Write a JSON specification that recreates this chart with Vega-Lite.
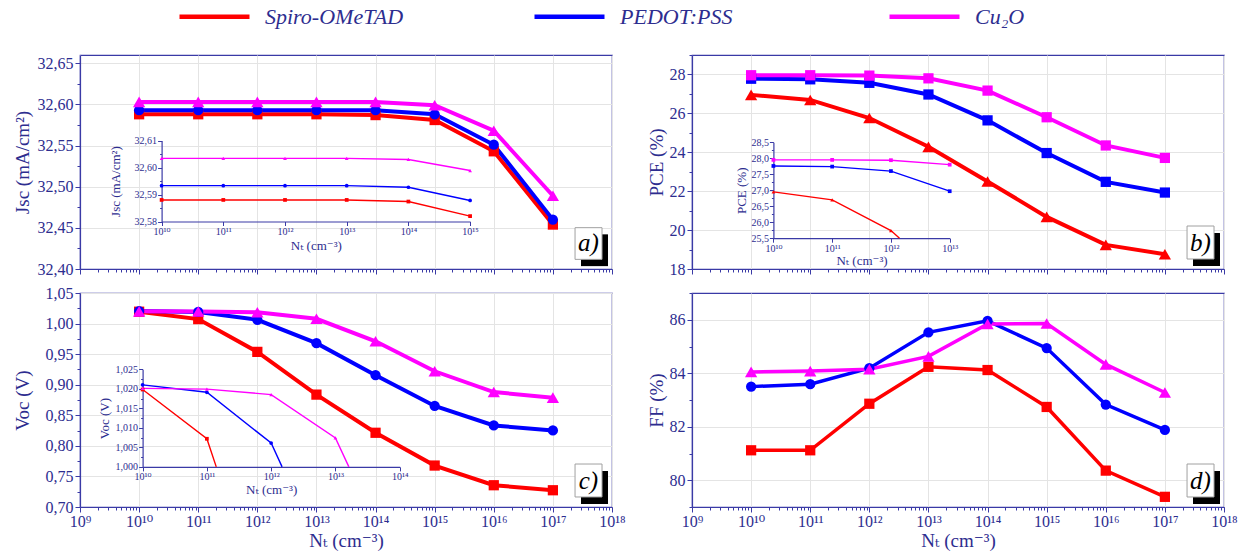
{
 "$schema": "https://vega.github.io/schema/vega-lite/v6.json",
 "padding": {"left": 12, "top": -21, "right": 6, "bottom": 0},
 "background": "white",
 "datasets": {
  "main": [
   {"panel":"a","htm":"Spiro-OMeTAD","nt":1e10,"v":32.588},{"panel":"a","htm":"Spiro-OMeTAD","nt":1e11,"v":32.588},{"panel":"a","htm":"Spiro-OMeTAD","nt":1e12,"v":32.588},{"panel":"a","htm":"Spiro-OMeTAD","nt":1e13,"v":32.588},{"panel":"a","htm":"Spiro-OMeTAD","nt":1e14,"v":32.587},{"panel":"a","htm":"Spiro-OMeTAD","nt":1e15,"v":32.581},{"panel":"a","htm":"Spiro-OMeTAD","nt":1e16,"v":32.543},{"panel":"a","htm":"Spiro-OMeTAD","nt":1e17,"v":32.454},
   {"panel":"a","htm":"PEDOT:PSS","nt":1e10,"v":32.593},{"panel":"a","htm":"PEDOT:PSS","nt":1e11,"v":32.593},{"panel":"a","htm":"PEDOT:PSS","nt":1e12,"v":32.593},{"panel":"a","htm":"PEDOT:PSS","nt":1e13,"v":32.593},{"panel":"a","htm":"PEDOT:PSS","nt":1e14,"v":32.593},{"panel":"a","htm":"PEDOT:PSS","nt":1e15,"v":32.588},{"panel":"a","htm":"PEDOT:PSS","nt":1e16,"v":32.551},{"panel":"a","htm":"PEDOT:PSS","nt":1e17,"v":32.460},
   {"panel":"a","htm":"Cu₂O","nt":1e10,"v":32.603},{"panel":"a","htm":"Cu₂O","nt":1e11,"v":32.603},{"panel":"a","htm":"Cu₂O","nt":1e12,"v":32.603},{"panel":"a","htm":"Cu₂O","nt":1e13,"v":32.603},{"panel":"a","htm":"Cu₂O","nt":1e14,"v":32.603},{"panel":"a","htm":"Cu₂O","nt":1e15,"v":32.599},{"panel":"a","htm":"Cu₂O","nt":1e16,"v":32.568},{"panel":"a","htm":"Cu₂O","nt":1e17,"v":32.489},
   {"panel":"b","htm":"Spiro-OMeTAD","nt":1e10,"v":26.95},{"panel":"b","htm":"Spiro-OMeTAD","nt":1e11,"v":26.69},{"panel":"b","htm":"Spiro-OMeTAD","nt":1e12,"v":25.76},{"panel":"b","htm":"Spiro-OMeTAD","nt":1e13,"v":24.28},{"panel":"b","htm":"Spiro-OMeTAD","nt":1e14,"v":22.50},{"panel":"b","htm":"Spiro-OMeTAD","nt":1e15,"v":20.68},{"panel":"b","htm":"Spiro-OMeTAD","nt":1e16,"v":19.24},{"panel":"b","htm":"Spiro-OMeTAD","nt":1e17,"v":18.76},
   {"panel":"b","htm":"PEDOT:PSS","nt":1e10,"v":27.78},{"panel":"b","htm":"PEDOT:PSS","nt":1e11,"v":27.75},{"panel":"b","htm":"PEDOT:PSS","nt":1e12,"v":27.57},{"panel":"b","htm":"PEDOT:PSS","nt":1e13,"v":26.97},{"panel":"b","htm":"PEDOT:PSS","nt":1e14,"v":25.64},{"panel":"b","htm":"PEDOT:PSS","nt":1e15,"v":23.96},{"panel":"b","htm":"PEDOT:PSS","nt":1e16,"v":22.48},{"panel":"b","htm":"PEDOT:PSS","nt":1e17,"v":21.93},
   {"panel":"b","htm":"Cu₂O","nt":1e10,"v":27.96},{"panel":"b","htm":"Cu₂O","nt":1e11,"v":27.96},{"panel":"b","htm":"Cu₂O","nt":1e12,"v":27.94},{"panel":"b","htm":"Cu₂O","nt":1e13,"v":27.80},{"panel":"b","htm":"Cu₂O","nt":1e14,"v":27.17},{"panel":"b","htm":"Cu₂O","nt":1e15,"v":25.80},{"panel":"b","htm":"Cu₂O","nt":1e16,"v":24.35},{"panel":"b","htm":"Cu₂O","nt":1e17,"v":23.71},
   {"panel":"c","htm":"Spiro-OMeTAD","nt":1e10,"v":1.0194},{"panel":"c","htm":"Spiro-OMeTAD","nt":1e11,"v":1.0073},{"panel":"c","htm":"Spiro-OMeTAD","nt":1e12,"v":0.9537},{"panel":"c","htm":"Spiro-OMeTAD","nt":1e13,"v":0.8838},{"panel":"c","htm":"Spiro-OMeTAD","nt":1e14,"v":0.8214},{"panel":"c","htm":"Spiro-OMeTAD","nt":1e15,"v":0.7678},{"panel":"c","htm":"Spiro-OMeTAD","nt":1e16,"v":0.7356},{"panel":"c","htm":"Spiro-OMeTAD","nt":1e17,"v":0.7274},
   {"panel":"c","htm":"PEDOT:PSS","nt":1e10,"v":1.0205},{"panel":"c","htm":"PEDOT:PSS","nt":1e11,"v":1.019},{"panel":"c","htm":"PEDOT:PSS","nt":1e12,"v":1.0062},{"panel":"c","htm":"PEDOT:PSS","nt":1e13,"v":0.968},{"panel":"c","htm":"PEDOT:PSS","nt":1e14,"v":0.9155},{"panel":"c","htm":"PEDOT:PSS","nt":1e15,"v":0.8652},{"panel":"c","htm":"PEDOT:PSS","nt":1e16,"v":0.8334},{"panel":"c","htm":"PEDOT:PSS","nt":1e17,"v":0.8252},
   {"panel":"c","htm":"Cu₂O","nt":1e10,"v":1.0200},{"panel":"c","htm":"Cu₂O","nt":1e11,"v":1.0197},{"panel":"c","htm":"Cu₂O","nt":1e12,"v":1.0185},{"panel":"c","htm":"Cu₂O","nt":1e13,"v":1.0078},{"panel":"c","htm":"Cu₂O","nt":1e14,"v":0.971},{"panel":"c","htm":"Cu₂O","nt":1e15,"v":0.922},{"panel":"c","htm":"Cu₂O","nt":1e16,"v":0.888},{"panel":"c","htm":"Cu₂O","nt":1e17,"v":0.8788},
   {"panel":"d","htm":"Spiro-OMeTAD","nt":1e10,"v":81.12},{"panel":"d","htm":"Spiro-OMeTAD","nt":1e11,"v":81.12},{"panel":"d","htm":"Spiro-OMeTAD","nt":1e12,"v":82.86},{"panel":"d","htm":"Spiro-OMeTAD","nt":1e13,"v":84.24},{"panel":"d","htm":"Spiro-OMeTAD","nt":1e14,"v":84.12},{"panel":"d","htm":"Spiro-OMeTAD","nt":1e15,"v":82.74},{"panel":"d","htm":"Spiro-OMeTAD","nt":1e16,"v":80.36},{"panel":"d","htm":"Spiro-OMeTAD","nt":1e17,"v":79.38},
   {"panel":"d","htm":"PEDOT:PSS","nt":1e10,"v":83.50},{"panel":"d","htm":"PEDOT:PSS","nt":1e11,"v":83.59},{"panel":"d","htm":"PEDOT:PSS","nt":1e12,"v":84.19},{"panel":"d","htm":"PEDOT:PSS","nt":1e13,"v":85.53},{"panel":"d","htm":"PEDOT:PSS","nt":1e14,"v":85.96},{"panel":"d","htm":"PEDOT:PSS","nt":1e15,"v":84.94},{"panel":"d","htm":"PEDOT:PSS","nt":1e16,"v":82.83},{"panel":"d","htm":"PEDOT:PSS","nt":1e17,"v":81.88},
   {"panel":"d","htm":"Cu₂O","nt":1e10,"v":84.05},{"panel":"d","htm":"Cu₂O","nt":1e11,"v":84.08},{"panel":"d","htm":"Cu₂O","nt":1e12,"v":84.15},{"panel":"d","htm":"Cu₂O","nt":1e13,"v":84.63},{"panel":"d","htm":"Cu₂O","nt":1e14,"v":85.84},{"panel":"d","htm":"Cu₂O","nt":1e15,"v":85.86},{"panel":"d","htm":"Cu₂O","nt":1e16,"v":84.33},{"panel":"d","htm":"Cu₂O","nt":1e17,"v":83.28}
  ],
  "inset": [
   {"panel":"a","htm":"Spiro-OMeTAD","nt":1e10,"v":32.588},{"panel":"a","htm":"Spiro-OMeTAD","nt":1e11,"v":32.588},{"panel":"a","htm":"Spiro-OMeTAD","nt":1e12,"v":32.588},{"panel":"a","htm":"Spiro-OMeTAD","nt":1e13,"v":32.588},{"panel":"a","htm":"Spiro-OMeTAD","nt":1e14,"v":32.5874},{"panel":"a","htm":"Spiro-OMeTAD","nt":1e15,"v":32.582},
   {"panel":"a","htm":"PEDOT:PSS","nt":1e10,"v":32.5933},{"panel":"a","htm":"PEDOT:PSS","nt":1e11,"v":32.5933},{"panel":"a","htm":"PEDOT:PSS","nt":1e12,"v":32.5933},{"panel":"a","htm":"PEDOT:PSS","nt":1e13,"v":32.5933},{"panel":"a","htm":"PEDOT:PSS","nt":1e14,"v":32.5927},{"panel":"a","htm":"PEDOT:PSS","nt":1e15,"v":32.5878},
   {"panel":"a","htm":"Cu₂O","nt":1e10,"v":32.6034},{"panel":"a","htm":"Cu₂O","nt":1e11,"v":32.6034},{"panel":"a","htm":"Cu₂O","nt":1e12,"v":32.6034},{"panel":"a","htm":"Cu₂O","nt":1e13,"v":32.6034},{"panel":"a","htm":"Cu₂O","nt":1e14,"v":32.603},{"panel":"a","htm":"Cu₂O","nt":1e15,"v":32.5989},
   {"panel":"b","htm":"Spiro-OMeTAD","nt":1e10,"v":26.95},{"panel":"b","htm":"Spiro-OMeTAD","nt":1e11,"v":26.70},{"panel":"b","htm":"Spiro-OMeTAD","nt":1e12,"v":25.74},{"panel":"b","htm":"Spiro-OMeTAD","nt":1.4e12,"v":25.5},
   {"panel":"b","htm":"PEDOT:PSS","nt":1e10,"v":27.76},{"panel":"b","htm":"PEDOT:PSS","nt":1e11,"v":27.74},{"panel":"b","htm":"PEDOT:PSS","nt":1e12,"v":27.60},{"panel":"b","htm":"PEDOT:PSS","nt":1e13,"v":26.97},
   {"panel":"b","htm":"Cu₂O","nt":1e10,"v":27.95},{"panel":"b","htm":"Cu₂O","nt":1e11,"v":27.95},{"panel":"b","htm":"Cu₂O","nt":1e12,"v":27.94},{"panel":"b","htm":"Cu₂O","nt":1e13,"v":27.80},
   {"panel":"c","htm":"Spiro-OMeTAD","nt":1e10,"v":1.0198},{"panel":"c","htm":"Spiro-OMeTAD","nt":1e11,"v":1.0072},{"panel":"c","htm":"Spiro-OMeTAD","nt":1.4e11,"v":1.0},
   {"panel":"c","htm":"PEDOT:PSS","nt":1e10,"v":1.021},{"panel":"c","htm":"PEDOT:PSS","nt":1e11,"v":1.0191},{"panel":"c","htm":"PEDOT:PSS","nt":1e12,"v":1.0061},{"panel":"c","htm":"PEDOT:PSS","nt":1.48e12,"v":1.0},
   {"panel":"c","htm":"Cu₂O","nt":1e10,"v":1.0201},{"panel":"c","htm":"Cu₂O","nt":1e11,"v":1.0199},{"panel":"c","htm":"Cu₂O","nt":1e12,"v":1.0185},{"panel":"c","htm":"Cu₂O","nt":1e13,"v":1.0074},{"panel":"c","htm":"Cu₂O","nt":1.62e13,"v":1.0}
  ],
  "tags": [{"panel":"a","tag":"a)"},{"panel":"b","tag":"b)"},{"panel":"c","tag":"c)"},{"panel":"d","tag":"d)"}]
 },
 "columns": 2,
 "spacing": {"row": 24, "column": 80},
 "bounds": "flush",
 "concat": [
  {
   "width": 532, "height": 214,
   "layer": [
    {
     "layer": [
      {
       "data": {"name": "main"},
       "transform": [{"filter": "datum.panel == 'a'"}],
       "encoding": {
        "x": {"field": "nt", "type": "quantitative", "scale": {"type": "log", "domain": [1e9, 1e18]},
              "axis": {"tickCount": 100, "labels": false, "title": null, "grid": true, "gridOpacity": {"condition": {"test": "abs(log(datum.value)/LN10 - round(log(datum.value)/LN10)) < 0.01", "value": 1}, "value": 0}, "tickSize": {"condition": {"test": "abs(log(datum.value)/LN10 - round(log(datum.value)/LN10)) < 0.01", "value": 5}, "value": 3}}},
        "y": {"field": "v", "type": "quantitative", "scale": {"domain": [32.4, 32.65]},
              "axis": {"values": [32.4,32.425,32.45,32.475,32.5,32.525,32.55,32.575,32.6,32.625,32.65], "labelExpr": "abs(datum.value*20 - round(datum.value*20)) < 0.01 ? replace(format(datum.value, '.2f'), '.', ',') : ''", "grid": true, "gridOpacity": {"condition": {"test": "abs(datum.value*20 - round(datum.value*20)) < 0.01", "value": 1}, "value": 0}, "tickSize": {"condition": {"test": "abs(datum.value*20 - round(datum.value*20)) < 0.01", "value": 5}, "value": 3}, "title": "Jsc (mA/cm²)", "titlePadding": 5}}
       },
       "layer": [
        {"mark": {"type": "line", "strokeWidth": 4}, "encoding": {"color": {"field": "htm", "type": "nominal", "scale": {"domain": ["Spiro-OMeTAD", "PEDOT:PSS", "Cu₂O"], "range": ["#ff0000", "#0000ff", "#ff00ff"]}, "legend": {"title": null, "orient": "none", "legendX": 97, "legendY": -76, "direction": "horizontal", "columns": 3, "gridAlign": "all", "symbolType": "stroke", "symbolSize": 4900, "symbolStrokeWidth": 4.5, "labelFontSize": 22, "labelFontStyle": "italic", "labelColor": "#2d2d8f", "labelOffset": 13, "columnPadding": 121, "labelLimit": 400, "padding": 0}}}},
        {"mark": {"type": "point", "filled": true, "opacity": 1}, "encoding": {"color": {"condition": [{"test": "datum.htm == 'Spiro-OMeTAD'", "value": "#ff0000"}, {"test": "datum.htm == 'PEDOT:PSS'", "value": "#0000ff"}], "value": "#ff00ff"}, "shape": {"condition": [{"test": "datum.htm == 'Spiro-OMeTAD'", "value": "square"}, {"test": "datum.htm == 'PEDOT:PSS'", "value": "circle"}], "value": "triangle-up"}, "size": {"condition": {"test": "datum.htm == 'Cu₂O'", "value": 150}, "value": 105}}}
       ]
      },
      {"data": {"name": "tags"}, "transform": [{"filter": "datum.panel == 'a'"}], "mark": {"type": "rect", "color": "black"}, "encoding": {"x": {"datum": 2.99e17, "type": "quantitative", "axis": null}, "x2": {"datum": 8.55e17}, "y": {"datum": 32.4035, "type": "quantitative", "axis": null}, "y2": {"datum": 32.4421}}},
      {"data": {"name": "tags"}, "transform": [{"filter": "datum.panel == 'a'"}], "mark": {"type": "rect", "fill": "white", "stroke": "#a0a0a0", "strokeWidth": 1}, "encoding": {"x": {"datum": 2.37e17, "type": "quantitative", "axis": null}, "x2": {"datum": 6.78e17}, "y": {"datum": 32.4117, "type": "quantitative", "axis": null}, "y2": {"datum": 32.4502}}},
      {"data": {"name": "tags"}, "transform": [{"filter": "datum.panel == 'a'"}], "mark": {"type": "text", "fontStyle": "italic", "fontSize": 25, "color": "black"}, "encoding": {"x": {"datum": 3.98e17, "type": "quantitative", "axis": null}, "y": {"datum": 32.431, "type": "quantitative", "axis": null}, "text": {"field": "tag"}}}
     ],
     "resolve": {"axis": {"x": "independent", "y": "independent"}}
    },
    {
     "data": {"name": "inset"},
     "transform": [{"filter": "datum.panel == 'a'"}],
     "encoding": {
      "x": {"field": "nt", "type": "quantitative", "scale": {"type": "log", "domain": [1e10, 1e15], "range": [81.6, 390.1]},
            "axis": {"orient": "bottom", "offset": -47.5, "values": [1e10,1e11,1e12,1e13,1e14,1e15], "grid": false, "labelOverlap": false, "labelBound": false, "labelFontSize": 10, "titleFontSize": 13, "labelPadding": 1, "titlePadding": 3, "title": "Nₜ (cm⁻³)", "labelExpr": "['10⁹','10¹⁰','10¹¹','10¹²','10¹³','10¹⁴','10¹⁵','10¹⁶','10¹⁷','10¹⁸'][round(log(datum.value)/LN10)-9]", "tickSize": 4}},
      "y": {"field": "v", "type": "quantitative", "scale": {"domain": [32.58, 32.61], "range": [166.5, 85.6]},
            "axis": {"orient": "left", "offset": -81.6, "grid": false, "labelOverlap": false, "values": [32.58,32.585,32.59,32.595,32.6,32.605,32.61], "labelFontSize": 10, "titleFontSize": 13, "labelPadding": 1, "titlePadding": 12, "title": "Jsc (mA/cm²)", "labelExpr": "abs(datum.value*100 - round(datum.value*100)) < 0.01 ? replace(format(datum.value, '.2f'), '.', ',') : ''", "tickSize": {"condition": {"test": "abs(datum.value*100 - round(datum.value*100)) < 0.01", "value": 4}, "value": 2}}}
     },
     "layer": [
      {"mark": {"type": "line", "strokeWidth": 1.4}, "encoding": {"color": {"field": "htm", "type": "nominal", "legend": {"title": null, "orient": "none", "legendX": 97, "legendY": -76, "direction": "horizontal", "columns": 3, "gridAlign": "all", "symbolType": "stroke", "symbolSize": 4900, "symbolStrokeWidth": 4.5, "labelFontSize": 22, "labelFontStyle": "italic", "labelColor": "#2d2d8f", "labelOffset": 13, "columnPadding": 121, "labelLimit": 400, "padding": 0}}}},
      {"transform": [{"filter": "abs(log(datum.nt)/LN10 - round(log(datum.nt)/LN10)) < 0.01"}], "mark": {"type": "point", "filled": true, "opacity": 1, "size": 14}, "encoding": {"color": {"condition": [{"test": "datum.htm == 'Spiro-OMeTAD'", "value": "#ff0000"}, {"test": "datum.htm == 'PEDOT:PSS'", "value": "#0000ff"}], "value": "#ff00ff"}, "shape": {"condition": [{"test": "datum.htm == 'Spiro-OMeTAD'", "value": "square"}, {"test": "datum.htm == 'PEDOT:PSS'", "value": "circle"}], "value": "triangle-up"}}}
     ]
    }
   ],
   "resolve": {"scale": {"x": "independent", "y": "independent"}, "axis": {"x": "independent", "y": "independent"}}
  },
  {
   "width": 532, "height": 214,
   "layer": [
    {
     "layer": [
      {
       "data": {"name": "main"},
       "transform": [{"filter": "datum.panel == 'b'"}],
       "encoding": {
        "x": {"field": "nt", "type": "quantitative", "scale": {"type": "log", "domain": [1e9, 1e18]},
              "axis": {"tickCount": 100, "labels": false, "title": null, "grid": true, "gridOpacity": {"condition": {"test": "abs(log(datum.value)/LN10 - round(log(datum.value)/LN10)) < 0.01", "value": 1}, "value": 0}, "tickSize": {"condition": {"test": "abs(log(datum.value)/LN10 - round(log(datum.value)/LN10)) < 0.01", "value": 5}, "value": 3}}},
        "y": {"field": "v", "type": "quantitative", "scale": {"domain": [18, 29]},
              "axis": {"values": [18,19,20,21,22,23,24,25,26,27,28,29], "labelExpr": "datum.value % 2 == 0 && datum.value < 29 ? format(datum.value, 'd') : ''", "grid": true, "gridOpacity": {"condition": {"test": "datum.value % 2 == 0", "value": 1}, "value": 0}, "tickSize": {"condition": {"test": "datum.value % 2 == 0", "value": 5}, "value": 3}, "title": "PCE (%)", "titlePadding": 3}}
       },
       "layer": [
        {"mark": {"type": "line", "strokeWidth": 4}, "encoding": {"color": {"field": "htm", "type": "nominal", "legend": {"title": null, "orient": "none", "legendX": 97, "legendY": -76, "direction": "horizontal", "columns": 3, "gridAlign": "all", "symbolType": "stroke", "symbolSize": 4900, "symbolStrokeWidth": 4.5, "labelFontSize": 22, "labelFontStyle": "italic", "labelColor": "#2d2d8f", "labelOffset": 13, "columnPadding": 121, "labelLimit": 400, "padding": 0}}}},
        {"mark": {"type": "point", "filled": true, "opacity": 1}, "encoding": {"color": {"condition": [{"test": "datum.htm == 'Spiro-OMeTAD'", "value": "#ff0000"}, {"test": "datum.htm == 'PEDOT:PSS'", "value": "#0000ff"}], "value": "#ff00ff"}, "shape": {"condition": {"test": "datum.htm == 'Spiro-OMeTAD'", "value": "triangle-up"}, "value": "square"}, "size": {"condition": {"test": "datum.htm == 'Spiro-OMeTAD'", "value": 150}, "value": 105}}}
       ]
      },
      {"data": {"name": "tags"}, "transform": [{"filter": "datum.panel == 'b'"}], "mark": {"type": "rect", "color": "black"}, "encoding": {"x": {"datum": 2.99e17, "type": "quantitative", "axis": null}, "x2": {"datum": 8.55e17}, "y": {"datum": 18.154, "type": "quantitative", "axis": null}, "y2": {"datum": 19.85}}},
      {"data": {"name": "tags"}, "transform": [{"filter": "datum.panel == 'b'"}], "mark": {"type": "rect", "fill": "white", "stroke": "#a0a0a0", "strokeWidth": 1}, "encoding": {"x": {"datum": 2.37e17, "type": "quantitative", "axis": null}, "x2": {"datum": 6.78e17}, "y": {"datum": 18.514, "type": "quantitative", "axis": null}, "y2": {"datum": 20.21}}},
      {"data": {"name": "tags"}, "transform": [{"filter": "datum.panel == 'b'"}], "mark": {"type": "text", "fontStyle": "italic", "fontSize": 25, "color": "black"}, "encoding": {"x": {"datum": 3.98e17, "type": "quantitative", "axis": null}, "y": {"datum": 19.36, "type": "quantitative", "axis": null}, "text": {"field": "tag"}}}
     ],
     "resolve": {"axis": {"x": "independent", "y": "independent"}}
    },
    {
     "data": {"name": "inset"},
     "transform": [{"filter": "datum.panel == 'b'"}],
     "encoding": {
      "x": {"field": "nt", "type": "quantitative", "scale": {"type": "log", "domain": [1e10, 1e13], "range": [81.4, 257.7]},
            "axis": {"orient": "bottom", "offset": -30.8, "values": [1e10,1e11,1e12,1e13], "grid": false, "labelOverlap": false, "labelBound": false, "labelFontSize": 10, "titleFontSize": 13, "labelPadding": 1, "titlePadding": 1, "title": "Nₜ (cm⁻³)", "labelExpr": "['10⁹','10¹⁰','10¹¹','10¹²','10¹³','10¹⁴','10¹⁵','10¹⁶','10¹⁷','10¹⁸'][round(log(datum.value)/LN10)-9]", "tickSize": 4}},
      "y": {"field": "v", "type": "quantitative", "scale": {"domain": [25.5, 28.5], "range": [183.2, 87.3]},
            "axis": {"orient": "left", "offset": -81.4, "grid": false, "labelOverlap": false, "values": [25.5,25.75,26,26.25,26.5,26.75,27,27.25,27.5,27.75,28,28.25,28.5], "labelFontSize": 10, "titleFontSize": 13, "labelPadding": 1, "titlePadding": 2, "title": "PCE (%)", "labelExpr": "abs(datum.value*2 - round(datum.value*2)) < 0.01 ? replace(format(datum.value, '.1f'), '.', ',') : ''", "tickSize": {"condition": {"test": "abs(datum.value*2 - round(datum.value*2)) < 0.01", "value": 4}, "value": 2}}}
     },
     "layer": [
      {"mark": {"type": "line", "strokeWidth": 1.4}, "encoding": {"color": {"field": "htm", "type": "nominal", "legend": {"title": null, "orient": "none", "legendX": 97, "legendY": -76, "direction": "horizontal", "columns": 3, "gridAlign": "all", "symbolType": "stroke", "symbolSize": 4900, "symbolStrokeWidth": 4.5, "labelFontSize": 22, "labelFontStyle": "italic", "labelColor": "#2d2d8f", "labelOffset": 13, "columnPadding": 121, "labelLimit": 400, "padding": 0}}}},
      {"transform": [{"filter": "abs(log(datum.nt)/LN10 - round(log(datum.nt)/LN10)) < 0.01"}], "mark": {"type": "point", "filled": true, "opacity": 1, "size": 14}, "encoding": {"color": {"condition": [{"test": "datum.htm == 'Spiro-OMeTAD'", "value": "#ff0000"}, {"test": "datum.htm == 'PEDOT:PSS'", "value": "#0000ff"}], "value": "#ff00ff"}, "shape": {"condition": {"test": "datum.htm == 'Spiro-OMeTAD'", "value": "triangle-up"}, "value": "square"}}}
     ]
    }
   ],
   "resolve": {"scale": {"x": "independent", "y": "independent"}, "axis": {"x": "independent", "y": "independent"}}
  },
  {
   "width": 532, "height": 214,
   "layer": [
    {
     "layer": [
      {
       "data": {"name": "main"},
       "transform": [{"filter": "datum.panel == 'c'"}],
       "encoding": {
        "x": {"field": "nt", "type": "quantitative", "scale": {"type": "log", "domain": [1e9, 1e18]},
              "axis": {"tickCount": 100, "title": "Nₜ (cm⁻³)", "titlePadding": 2, "labelPadding": 1, "labelExpr": "abs(log(datum.value)/LN10 - round(log(datum.value)/LN10)) < 0.01 ? ['10⁹','10¹⁰','10¹¹','10¹²','10¹³','10¹⁴','10¹⁵','10¹⁶','10¹⁷','10¹⁸'][round(log(datum.value)/LN10)-9] : ''", "grid": true, "gridOpacity": {"condition": {"test": "abs(log(datum.value)/LN10 - round(log(datum.value)/LN10)) < 0.01", "value": 1}, "value": 0}, "tickSize": {"condition": {"test": "abs(log(datum.value)/LN10 - round(log(datum.value)/LN10)) < 0.01", "value": 5}, "value": 3}}},
        "y": {"field": "v", "type": "quantitative", "scale": {"domain": [0.7, 1.05]},
              "axis": {"values": [0.7,0.725,0.75,0.775,0.8,0.825,0.85,0.875,0.9,0.925,0.95,0.975,1.0,1.025,1.05], "labelExpr": "abs(datum.value*20 - round(datum.value*20)) < 0.01 ? replace(format(datum.value, '.2f'), '.', ',') : ''", "grid": true, "gridOpacity": {"condition": {"test": "abs(datum.value*20 - round(datum.value*20)) < 0.01", "value": 1}, "value": 0}, "tickSize": {"condition": {"test": "abs(datum.value*20 - round(datum.value*20)) < 0.01", "value": 5}, "value": 3}, "title": "Voc (V)", "titlePadding": 13}}
       },
       "layer": [
        {"mark": {"type": "line", "strokeWidth": 4}, "encoding": {"color": {"field": "htm", "type": "nominal", "legend": {"title": null, "orient": "none", "legendX": 97, "legendY": -76, "direction": "horizontal", "columns": 3, "gridAlign": "all", "symbolType": "stroke", "symbolSize": 4900, "symbolStrokeWidth": 4.5, "labelFontSize": 22, "labelFontStyle": "italic", "labelColor": "#2d2d8f", "labelOffset": 13, "columnPadding": 121, "labelLimit": 400, "padding": 0}}}},
        {"mark": {"type": "point", "filled": true, "opacity": 1}, "encoding": {"color": {"condition": [{"test": "datum.htm == 'Spiro-OMeTAD'", "value": "#ff0000"}, {"test": "datum.htm == 'PEDOT:PSS'", "value": "#0000ff"}], "value": "#ff00ff"}, "shape": {"condition": [{"test": "datum.htm == 'Spiro-OMeTAD'", "value": "square"}, {"test": "datum.htm == 'PEDOT:PSS'", "value": "circle"}], "value": "triangle-up"}, "size": {"condition": {"test": "datum.htm == 'Cu₂O'", "value": 150}, "value": 105}}}
       ]
      },
      {"data": {"name": "tags"}, "transform": [{"filter": "datum.panel == 'c'"}], "mark": {"type": "rect", "color": "black"}, "encoding": {"x": {"datum": 2.99e17, "type": "quantitative", "axis": null}, "x2": {"datum": 8.55e17}, "y": {"datum": 0.7049, "type": "quantitative", "axis": null}, "y2": {"datum": 0.7589}}},
      {"data": {"name": "tags"}, "transform": [{"filter": "datum.panel == 'c'"}], "mark": {"type": "rect", "fill": "white", "stroke": "#a0a0a0", "strokeWidth": 1}, "encoding": {"x": {"datum": 2.37e17, "type": "quantitative", "axis": null}, "x2": {"datum": 6.78e17}, "y": {"datum": 0.7164, "type": "quantitative", "axis": null}, "y2": {"datum": 0.7703}}},
      {"data": {"name": "tags"}, "transform": [{"filter": "datum.panel == 'c'"}], "mark": {"type": "text", "fontStyle": "italic", "fontSize": 25, "color": "black"}, "encoding": {"x": {"datum": 3.98e17, "type": "quantitative", "axis": null}, "y": {"datum": 0.7433, "type": "quantitative", "axis": null}, "text": {"field": "tag"}}}
     ],
     "resolve": {"axis": {"x": "independent", "y": "independent"}}
    },
    {
     "data": {"name": "inset"},
     "transform": [{"filter": "datum.panel == 'c'"}],
     "encoding": {
      "x": {"field": "nt", "type": "quantitative", "scale": {"type": "log", "domain": [1e10, 1e14], "range": [62.6, 319.7]},
            "axis": {"orient": "bottom", "offset": -40.1, "values": [1e10,1e11,1e12,1e13,1e14], "grid": false, "labelOverlap": false, "labelBound": false, "labelFontSize": 10, "titleFontSize": 13, "labelPadding": 1, "titlePadding": 2, "title": "Nₜ (cm⁻³)", "labelExpr": "['10⁹','10¹⁰','10¹¹','10¹²','10¹³','10¹⁴','10¹⁵','10¹⁶','10¹⁷','10¹⁸'][round(log(datum.value)/LN10)-9]", "tickSize": 4}},
      "y": {"field": "v", "type": "quantitative", "scale": {"domain": [1.0, 1.025], "range": [173.9, 76.2]},
            "axis": {"orient": "left", "offset": -62.6, "grid": false, "labelOverlap": false, "values": [1.0,1.0025,1.005,1.0075,1.01,1.0125,1.015,1.0175,1.02,1.0225,1.025], "labelFontSize": 10, "titleFontSize": 13, "labelPadding": 1, "titlePadding": 4, "title": "Voc (V)", "labelExpr": "abs(datum.value*200 - round(datum.value*200)) < 0.01 ? replace(format(datum.value, '.3f'), '.', ',') : ''", "tickSize": {"condition": {"test": "abs(datum.value*200 - round(datum.value*200)) < 0.01", "value": 4}, "value": 2}}}
     },
     "layer": [
      {"mark": {"type": "line", "strokeWidth": 1.4}, "encoding": {"color": {"field": "htm", "type": "nominal", "legend": {"title": null, "orient": "none", "legendX": 97, "legendY": -76, "direction": "horizontal", "columns": 3, "gridAlign": "all", "symbolType": "stroke", "symbolSize": 4900, "symbolStrokeWidth": 4.5, "labelFontSize": 22, "labelFontStyle": "italic", "labelColor": "#2d2d8f", "labelOffset": 13, "columnPadding": 121, "labelLimit": 400, "padding": 0}}}},
      {"transform": [{"filter": "abs(log(datum.nt)/LN10 - round(log(datum.nt)/LN10)) < 0.01"}], "mark": {"type": "point", "filled": true, "opacity": 1, "size": 14}, "encoding": {"color": {"condition": [{"test": "datum.htm == 'Spiro-OMeTAD'", "value": "#ff0000"}, {"test": "datum.htm == 'PEDOT:PSS'", "value": "#0000ff"}], "value": "#ff00ff"}, "shape": {"condition": [{"test": "datum.htm == 'Spiro-OMeTAD'", "value": "square"}, {"test": "datum.htm == 'PEDOT:PSS'", "value": "circle"}], "value": "triangle-up"}}}
     ]
    }
   ],
   "resolve": {"scale": {"x": "independent", "y": "independent"}, "axis": {"x": "independent", "y": "independent"}}
  },
  {
   "width": 532, "height": 214,
   "layer": [
    {
     "data": {"name": "main"},
     "transform": [{"filter": "datum.panel == 'd'"}],
     "encoding": {
      "x": {"field": "nt", "type": "quantitative", "scale": {"type": "log", "domain": [1e9, 1e18]},
            "axis": {"tickCount": 100, "title": "Nₜ (cm⁻³)", "titlePadding": 2, "labelPadding": 1, "labelExpr": "abs(log(datum.value)/LN10 - round(log(datum.value)/LN10)) < 0.01 ? ['10⁹','10¹⁰','10¹¹','10¹²','10¹³','10¹⁴','10¹⁵','10¹⁶','10¹⁷','10¹⁸'][round(log(datum.value)/LN10)-9] : ''", "grid": true, "gridOpacity": {"condition": {"test": "abs(log(datum.value)/LN10 - round(log(datum.value)/LN10)) < 0.01", "value": 1}, "value": 0}, "tickSize": {"condition": {"test": "abs(log(datum.value)/LN10 - round(log(datum.value)/LN10)) < 0.01", "value": 5}, "value": 3}}},
      "y": {"field": "v", "type": "quantitative", "scale": {"domain": [79, 87]},
            "axis": {"values": [79,80,81,82,83,84,85,86,87], "labelExpr": "datum.value % 2 == 0 ? format(datum.value, 'd') : ''", "grid": true, "gridOpacity": {"condition": {"test": "datum.value % 2 == 0", "value": 1}, "value": 0}, "tickSize": {"condition": {"test": "datum.value % 2 == 0", "value": 5}, "value": 3}, "title": "FF (%)", "titlePadding": 3}}
     },
     "layer": [
      {"mark": {"type": "line", "strokeWidth": 3.5}, "encoding": {"color": {"field": "htm", "type": "nominal", "legend": {"title": null, "orient": "none", "legendX": 97, "legendY": -76, "direction": "horizontal", "columns": 3, "gridAlign": "all", "symbolType": "stroke", "symbolSize": 4900, "symbolStrokeWidth": 4.5, "labelFontSize": 22, "labelFontStyle": "italic", "labelColor": "#2d2d8f", "labelOffset": 13, "columnPadding": 121, "labelLimit": 400, "padding": 0}}}},
      {"mark": {"type": "point", "filled": true, "opacity": 1}, "encoding": {"color": {"condition": [{"test": "datum.htm == 'Spiro-OMeTAD'", "value": "#ff0000"}, {"test": "datum.htm == 'PEDOT:PSS'", "value": "#0000ff"}], "value": "#ff00ff"}, "shape": {"condition": [{"test": "datum.htm == 'Spiro-OMeTAD'", "value": "square"}, {"test": "datum.htm == 'PEDOT:PSS'", "value": "circle"}], "value": "triangle-up"}, "size": {"condition": {"test": "datum.htm == 'Cu₂O'", "value": 150}, "value": 105}}}
     ]
    },
    {"data": {"name": "tags"}, "transform": [{"filter": "datum.panel == 'd'"}], "mark": {"type": "rect", "color": "black"}, "encoding": {"x": {"datum": 2.99e17, "type": "quantitative", "axis": null}, "x2": {"datum": 8.55e17}, "y": {"datum": 79.112, "type": "quantitative", "axis": null}, "y2": {"datum": 80.346}}},
    {"data": {"name": "tags"}, "transform": [{"filter": "datum.panel == 'd'"}], "mark": {"type": "rect", "fill": "white", "stroke": "#a0a0a0", "strokeWidth": 1}, "encoding": {"x": {"datum": 2.37e17, "type": "quantitative", "axis": null}, "x2": {"datum": 6.78e17}, "y": {"datum": 79.374, "type": "quantitative", "axis": null}, "y2": {"datum": 80.607}}},
    {"data": {"name": "tags"}, "transform": [{"filter": "datum.panel == 'd'"}], "mark": {"type": "text", "fontStyle": "italic", "fontSize": 25, "color": "black"}, "encoding": {"x": {"datum": 3.98e17, "type": "quantitative", "axis": null}, "y": {"datum": 79.99, "type": "quantitative", "axis": null}, "text": {"field": "tag"}}}
   ],
   "resolve": {"axis": {"x": "independent", "y": "independent"}}
  }
 ],
 "config": {
  "font": "Liberation Serif, Times New Roman, DejaVu Serif, serif",
  "view": {"stroke": "#3a3aa6", "strokeWidth": 1.2},
  "text": {"font": "Liberation Serif, Times New Roman, DejaVu Serif, serif"},
  "legend": {"labelFont": "Liberation Serif, Times New Roman, DejaVu Serif, serif"},
  "axis": {"domainColor": "#3a3aa6", "domainWidth": 1.2, "tickColor": "#3a3aa6", "labelColor": "#2d2d8f", "titleColor": "#2d2d8f", "labelFont": "Liberation Serif, Times New Roman, DejaVu Serif, serif", "titleFont": "Liberation Serif, Times New Roman, DejaVu Serif, serif", "titleFontWeight": "normal", "gridColor": "#e4e4e4", "gridWidth": 1, "labelFontSize": 16, "titleFontSize": 19, "labelOverlap": false, "labelFlush": false, "labelPadding": 2}
 }
}
